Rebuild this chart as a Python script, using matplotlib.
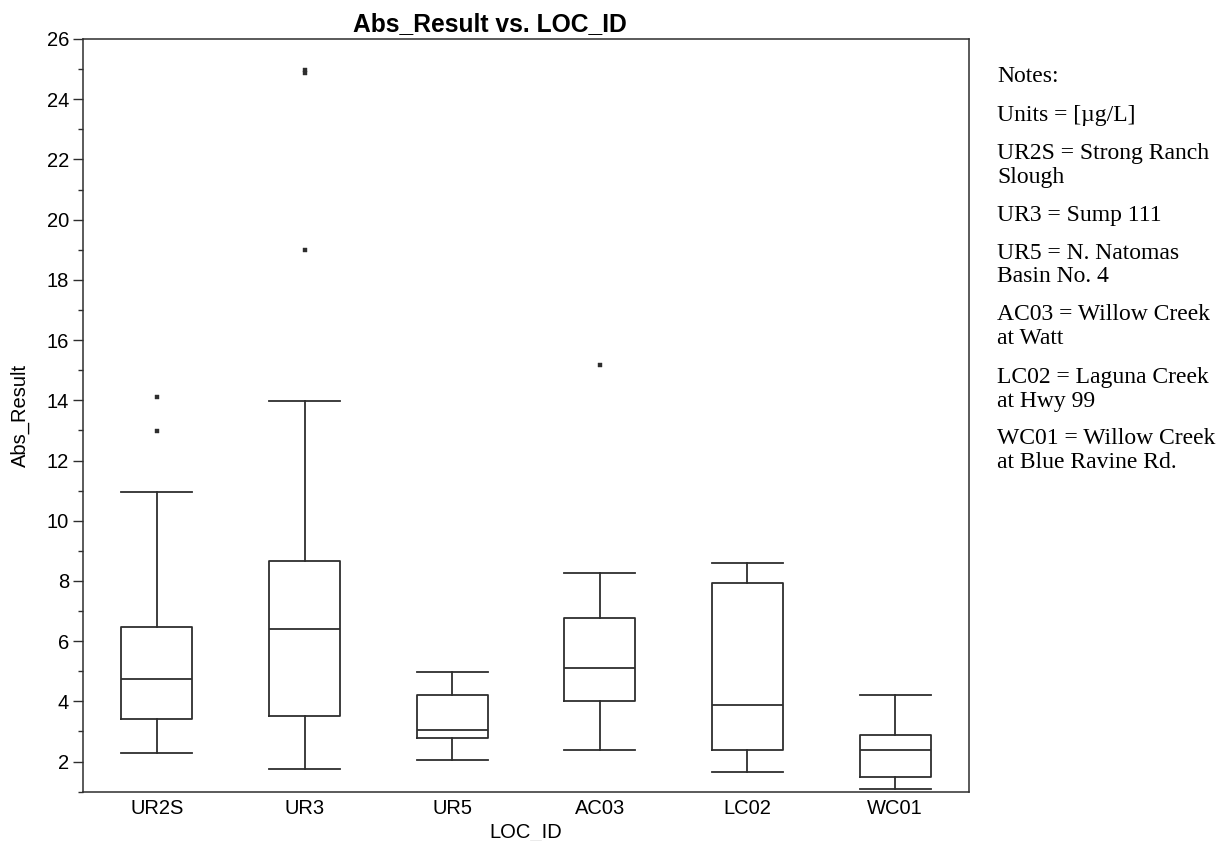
import numpy as np
import matplotlib
matplotlib.use("Agg")
import matplotlib.pyplot as plt

# Datos
sitios = ["UR2S", "UR3", "UR5", "AC03", "LC02", "WC01"]
bigote_inf = [2.27, 1.77, 2.04, 2.39, 1.66, 1.09]
q1 = [3.41, 3.51, 2.77, 4.01, 2.39, 1.48]
mediana = [4.73, 6.42, 3.05, 5.12, 3.89, 2.39]
q3 = [6.48, 8.66, 4.22, 6.76, 7.92, 2.88]
bigote_sup = [10.96, 13.99, 4.96, 8.28, 8.60, 4.22]
atipicos = [[14.10, 12.98], [24.98, 24.86, 18.99], [], [15.17], [], []]

notas = [["Notes:"],
         ["Units = [\u00b5g/L]"],
         ["UR2S = Strong Ranch", "Slough"],
         ["UR3 = Sump 111"],
         ["UR5 = N. Natomas", "Basin No. 4"],
         ["AC03 = Willow Creek", "at Watt"],
         ["LC02 = Laguna Creek", "at Hwy 99"],
         ["WC01 = Willow Creek", "at Blue Ravine Rd."]]

plt.rcParams['font.family'] = ['Liberation Sans', 'DejaVu Sans']
gris = "#2e2e2e"

fig = plt.figure(figsize=(12.32, 8.41), dpi=100)
ax = fig.add_axes([83/1232, 1-792.3/841, (969-83)/1232, (792.3-39)/841])

stats = []
for i in range(len(sitios)):
    stats.append(dict(label=sitios[i], whislo=bigote_inf[i], q1=q1[i], med=mediana[i],
                      q3=q3[i], whishi=bigote_sup[i], fliers=atipicos[i]))

lw = 1.3
ax.bxp(stats, positions=np.arange(1, len(sitios)+1), widths=0.48, capwidths=0.48,
       boxprops=dict(color=gris, linewidth=lw),
       medianprops=dict(color=gris, linewidth=lw),
       whiskerprops=dict(color=gris, linewidth=lw),
       capprops=dict(color=gris, linewidth=lw),
       flierprops=dict(marker='s', markersize=2.2, markerfacecolor=gris,
                       markeredgecolor=gris, markeredgewidth=0.3))

ax.set_xlim(0.5, 6.5)
ax.set_ylim(0.98, 26)
ax.set_yticks(np.arange(2, 27, 2))
ax.set_yticks(np.arange(1, 26, 2), minor=True)
ax.tick_params(axis='y', which='major', length=7, width=1, color=gris, labelsize=14.5, pad=3)
ax.tick_params(axis='y', which='minor', length=3.6, width=1, color=gris)
ax.tick_params(axis='x', length=0, labelsize=14.5, pad=4.5)
for s in ax.spines.values():
    s.set_color(gris)
    s.set_linewidth(1.1)

# el título va centrado sobre toda la zona del gráfico, no sólo sobre los ejes
ax.set_title("Abs_Result vs. LOC_ID", fontsize=17.7, fontweight='bold', pad=5.8, x=0.4588)
ax.set_xlabel("LOC_ID", fontsize=14.5, labelpad=3.9)
ax.set_ylabel("Abs_Result", fontsize=14.5, labelpad=12)

# Notas a la derecha
y = 77
for bloque in notas:
    for linea in bloque:
        fig.text(997/1232, 1 - y/841, linea, fontsize=17, family='Liberation Serif',
                 va='center', ha='left')
        y += 24
    y += 14

fig.savefig("out.png", dpi=100)
